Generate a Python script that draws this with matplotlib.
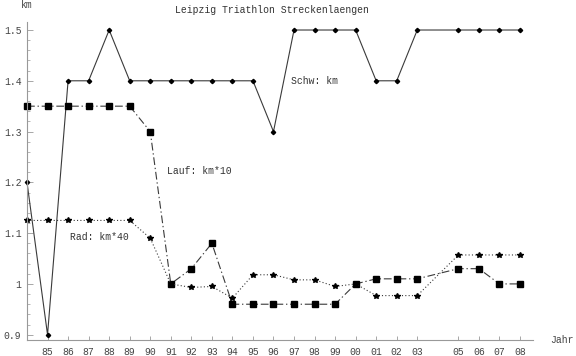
import numpy as np
import matplotlib
matplotlib.use('Agg')
import matplotlib.pyplot as plt
from matplotlib.ticker import MultipleLocator, FixedLocator, FixedFormatter

# years (84 .. 108 = 2008), 2004 missing
years = [84, 85, 86, 87, 88, 89, 90, 91, 92, 93, 94, 95, 96, 97, 98, 99,
         100, 101, 102, 103, 105, 106, 107, 108]
year_labels = ['85', '86', '87', '88', '89', '90', '91', '92', '93', '94', '95',
               '96', '97', '98', '99', '00', '01', '02', '03', '05', '06', '07', '08']

# Schwimmen: km
schw = [1.2, 0.9, 1.4, 1.4, 1.5, 1.4, 1.4, 1.4, 1.4, 1.4, 1.4, 1.4, 1.3, 1.5,
        1.5, 1.5, 1.5, 1.4, 1.4, 1.5, 1.5, 1.5, 1.5, 1.5]
# Lauf: km*10 (scaled)
lauf = [1.35, 1.35, 1.35, 1.35, 1.35, 1.35, 1.3, 1.0, 1.03, 1.08, 0.96, 0.96,
        0.96, 0.96, 0.96, 0.96, 1.0, 1.01, 1.01, 1.01, 1.03, 1.03, 1.0, 1.0]
# Rad: km*40 (scaled)
rad = [1.125, 1.125, 1.125, 1.125, 1.125, 1.125, 1.09, 1.0, 0.993, 0.995, 0.972,
       1.018, 1.018, 1.008, 1.008, 0.995, 1.0, 0.977, 0.977, 0.977, 1.057, 1.057,
       1.057, 1.057]

plt.rcParams['font.family'] = ['Liberation Mono', 'DejaVu Sans Mono']
plt.rcParams['font.size'] = 7

fig = plt.figure(figsize=(5.76, 3.56), dpi=100)
W, H = 576.0, 356.0
ax = fig.add_axes([27 / W, (H - 340) / H, (533 - 27) / W, (340 - 22) / H])

lc = '#3a3a3a'
ax.plot(years, schw, color=lc, lw=0.8, marker='D', ms=2.2, mfc='black', mec='black',
        clip_on=False)
ax.plot(years, lauf, color=lc, lw=0.8, dashes=(7, 2.5, 1.2, 2.5), marker='s', ms=5,
        mfc='black', mec='black', clip_on=False)
ax.plot(years, rad, color=lc, lw=0.8, dashes=(1, 2), marker='*', ms=4,
        mfc='black', mec='black', clip_on=False)

ax.set_xlim(84, 84 + 506 / 20.54)
ax.set_ylim(1 - 56 / 507.0, 1.5 + 8 / 507.0)

ax.spines['top'].set_visible(False)
ax.spines['right'].set_visible(False)
for sp in ('left', 'bottom'):
    ax.spines[sp].set_color('#999999')
    ax.spines[sp].set_linewidth(0.8)

ax.xaxis.set_major_locator(FixedLocator(years[1:]))
ax.xaxis.set_major_formatter(FixedFormatter(year_labels))
ax.yaxis.set_major_locator(FixedLocator([0.9, 1.0, 1.1, 1.2, 1.3, 1.4, 1.5]))
ax.yaxis.set_major_formatter(FixedFormatter(['0.9', '1', '1.1', '1.2', '1.3', '1.4', '1.5']))
ax.yaxis.set_minor_locator(MultipleLocator(0.02))
ax.tick_params(axis='both', which='both', direction='in', color='#999999',
               labelcolor='#444444', labelsize=7)
ax.tick_params(axis='y', which='major', length=4, width=0.6, pad=4)
ax.tick_params(axis='y', which='minor', length=2.5, width=0.5)
ax.tick_params(axis='x', which='major', length=3, width=0.6, pad=5)

fig.text(27 / W, 1 - 5 / H, 'km', ha='center', va='center', color='#444444', fontsize=7)
fig.text(550 / W, 1 - 340 / H, 'Jahr', ha='left', va='center', color='#444444', fontsize=7)
fig.text(272 / W, 1 - 10 / H, 'Leipzig Triathlon Streckenlaengen', ha='center',
         va='center', color='#333333', fontsize=7)
ax.text(96.85, 1.4, 'Schw: km', ha='left', va='center', color='#333333', fontsize=7)
ax.text(90.8, 1.222, 'Lauf: km*10', ha='left', va='center', color='#333333', fontsize=7)
ax.text(86.1, 1.092, 'Rad: km*40', ha='left', va='center', color='#333333', fontsize=7)

fig.savefig('out.png', dpi=100)
